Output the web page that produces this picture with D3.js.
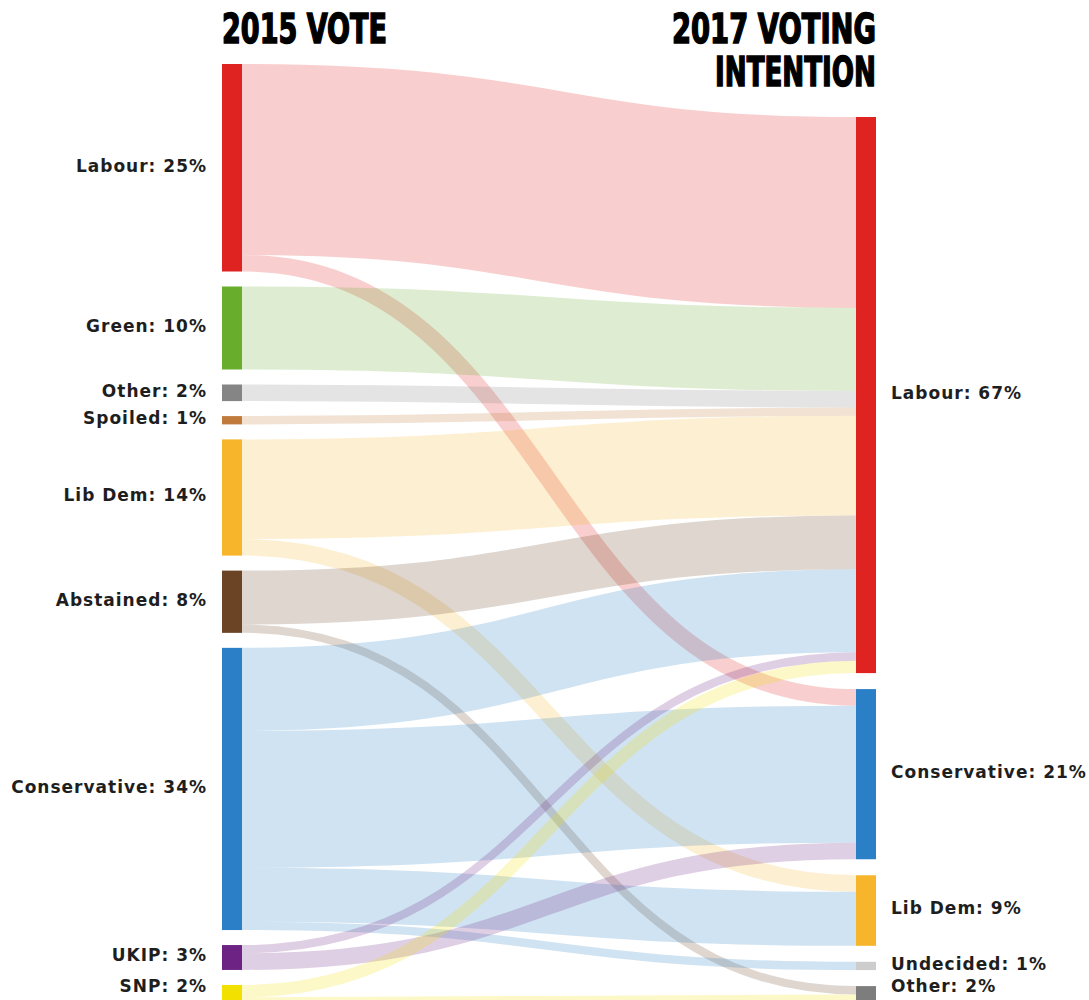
<!DOCTYPE html>
<html><head><meta charset="utf-8">
<script src="https://cdn.jsdelivr.net/npm/d3@7"></script>
<style>
html,body{margin:0;padding:0;background:#fff;overflow:hidden;}
svg{display:block;}
</style></head><body>
<svg id="chart" width="1089" height="1000"></svg>
<script>
// ---- data ----
const sources = ["Labour","Green","Other","Spoiled","Lib Dem","Abstained","Conservative","UKIP","SNP"];
const sourceLabels = ["Labour: 25%","Green: 10%","Other: 2%","Spoiled: 1%","Lib Dem: 14%","Abstained: 8%","Conservative: 34%","UKIP: 3%","SNP: 2%"];
const sourceColors = ["#de2320","#68ae2c","#858585","#c07a3c","#f7b52c","#6a4424","#2a7fc6","#6c2383","#f2e000"];
const targets = ["Labour","Conservative","Lib Dem","Undecided","Other"];
const targetLabels = ["Labour: 67%","Conservative: 21%","Lib Dem: 9%","Undecided: 1%","Other: 2%"];
const targetColors = ["#de2320","#2a7fc6","#f7b52c","#cdcdcd","#7d7d7d"];
// rows: 2015 vote; columns: 2017 intention (Labour, Conservative, Lib Dem, Undecided, Other)
const labourFlows       = [23,   2,   0,   0, 0];
const greenFlows        = [10,   0,   0,   0, 0];
const otherFlows        = [2,    0,   0,   0, 0];
const spoiledFlows      = [1,    0,   0,   0, 0];
const libDemFlows       = [12,   0,   2,   0, 0];
const abstainedFlows    = [6.5,  0,   0,   0, 1];
const conservativeFlows = [10, 16.5, 6.5,  1, 0];
const ukipFlows         = [1,    2,   0,   0, 0];
const snpFlows          = [1.5,  0,   0,   0, 1];
const titleLeft = ["2015 VOTE"];
const titleRight = ["2017 VOTING","INTENTION"];

const flows = [labourFlows,greenFlows,otherFlows,spoiledFlows,libDemFlows,abstainedFlows,conservativeFlows,ukipFlows,snpFlows];

// ---- layout ----
const svg = d3.select("#chart");
const k = d3.scaleLinear().domain([0,1]).range([0,8.3]);
const leftX0 = 222, leftX1 = 242, rightX0 = 856, rightX1 = 876;
const leftTop = 64, leftGap = 15, rightTop = 117, rightGap = 16;

const srcNodes = sources.map((s,i)=>({name:s,label:sourceLabels[i],color:sourceColors[i],value:d3.sum(flows[i])}));
const tgtNodes = targets.map((t,j)=>({name:t,label:targetLabels[j],color:targetColors[j],value:d3.sum(flows,r=>r[j])}));
let y = leftTop;
srcNodes.forEach(n=>{n.y0=y;n.y1=y+k(n.value);y=n.y1+leftGap;});
y = rightTop;
tgtNodes.forEach(n=>{n.y0=y;n.y1=y+k(n.value);y=n.y1+rightGap;});

const links = [];
const srcOff = srcNodes.map(n=>n.y0);
const tgtOff = tgtNodes.map(n=>n.y0);
sources.forEach((s,i)=>{
  targets.forEach((t,j)=>{
    const v = flows[i][j];
    if(!v) return;
    links.push({i,j,v});
  });
});
links.forEach(l=>{
  const w = k(l.v);
  l.w = w;
  l.sy = srcOff[l.i] + w/2; srcOff[l.i]+=w;
});
for(let j=0;j<targets.length;j++){
  links.filter(l=>l.j===j).sort((a,b)=>a.i-b.i).forEach(l=>{
    l.ty = tgtOff[j] + l.w/2; tgtOff[j]+=l.w;
  });
}

const linkGen = d3.linkHorizontal();
svg.append("g").selectAll("path").data(links).join("path")
  .attr("d", l=>linkGen({source:[leftX1,l.sy],target:[rightX0,l.ty]}))
  .attr("fill","none")
  .attr("stroke", l=>sourceColors[l.i])
  .attr("stroke-opacity",0.22)
  .attr("stroke-width", l=>l.w);

// nodes
svg.append("g").selectAll("rect").data(srcNodes).join("rect")
  .attr("x",leftX0).attr("width",leftX1-leftX0)
  .attr("y",d=>d.y0).attr("height",d=>d.y1-d.y0)
  .attr("fill",d=>d.color);
svg.append("g").selectAll("rect").data(tgtNodes).join("rect")
  .attr("x",rightX0).attr("width",rightX1-rightX0)
  .attr("y",d=>d.y0).attr("height",d=>d.y1-d.y0)
  .attr("fill",d=>d.color);

// labels
const lblFont = "'DejaVu Sans', sans-serif";
const labelY = d => Math.min((d.y0+d.y1)/2 - 2, 986);
svg.append("g").selectAll("text").data(srcNodes).join("text")
  .attr("x",207).attr("y",labelY)
  .attr("dy","0.35em").attr("text-anchor","end")
  .attr("font-family",lblFont).attr("font-weight","bold").attr("font-size",17)
  .attr("letter-spacing","1px").attr("fill","#1e1e1e")
  .text(d=>d.label);
svg.append("g").selectAll("text").data(tgtNodes).join("text")
  .attr("x",891).attr("y",labelY)
  .attr("dy","0.35em").attr("text-anchor","start")
  .attr("font-family",lblFont).attr("font-weight","bold").attr("font-size",17)
  .attr("letter-spacing","1px").attr("fill","#1e1e1e")
  .text(d=>d.label);

// titles
const tFont = "'Liberation Sans Narrow','DejaVu Sans Condensed',sans-serif";
function title(txt,x,base,len){
  svg.append("text").attr("x",x).attr("y",base)
    .attr("font-family",tFont).attr("font-weight","bold").attr("font-size",40)
    .attr("textLength",len).attr("lengthAdjust","spacingAndGlyphs")
    .attr("fill","#000").attr("stroke","#000").attr("stroke-width",1.5)
    .text(txt);
}
title(titleLeft[0],222,43,165);
title(titleRight[0],876-204,43,204);
title(titleRight[1],876-161,86,161);
</script>
</body></html>
